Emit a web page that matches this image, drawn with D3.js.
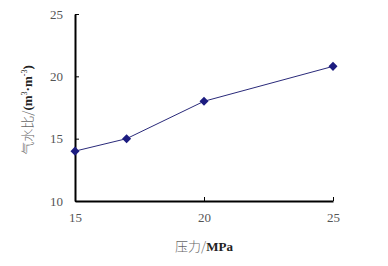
<!DOCTYPE html>
<html lang="zh">
<head>
  <meta charset="UTF-8">
  <title>气水比</title>
  <script src="https://d3js.org/d3.v7.min.js"></script>
  <style>
    body { margin: 0; background: #fff; }
    svg { display: block; }
  </style>
</head>
<body>
<svg id="chart" width="388" height="266"></svg>
<script>
  // données
  const pressure = [15, 17, 20, 25];
  const ratio = [14.0, 15.0, 18.0, 20.8];
  const xTicks = [15, 20, 25];
  const yTicks = [10, 15, 20, 25];

  const svg = d3.select("#chart");
  const mLeft = 75, mRight = 333, mTop = 14, mBottom = 201;
  const serif = "Liberation Serif, DejaVu Serif, serif";

  const x = d3.scaleLinear().domain([15, 25]).range([mLeft, mRight]);
  const y = d3.scaleLinear().domain([10, 25]).range([mBottom, mTop]);

  function styleAxis(g) {
    g.select(".domain").attr("stroke", "#000").attr("stroke-width", 2);
    g.selectAll(".tick line").attr("stroke", "#000");
    g.selectAll(".tick text")
      .attr("fill", "#555")
      .style("font-family", serif)
      .style("font-size", "13px");
  }

  // axe y
  svg.append("g").attr("transform", `translate(${mLeft},0)`)
    .call(d3.axisLeft(y).tickValues(yTicks).tickSizeInner(-4).tickSizeOuter(0).tickPadding(12))
    .call(styleAxis);

  // axe x
  svg.append("g").attr("transform", `translate(0,${mBottom})`)
    .call(d3.axisBottom(x).tickValues(xTicks).tickSizeInner(-4).tickSizeOuter(0).tickPadding(12))
    .call(styleAxis);

  const pts = pressure.map((p, i) => [p, ratio[i]]);

  svg.append("path")
    .datum(pts)
    .attr("fill", "none")
    .attr("stroke", "#2a2a7a")
    .attr("stroke-width", 1)
    .attr("d", d3.line().x(d => x(d[0])).y(d => y(d[1])));

  svg.append("g").selectAll("path")
    .data(pts)
    .join("path")
    .attr("transform", d => `translate(${x(d[0])},${y(d[1])}) rotate(45)`)
    .attr("d", "M-3.2,-3.2H3.2V3.2H-3.2Z")
    .attr("fill", "#1c1c80");

  // titres
  const xt = svg.append("text")
    .attr("x", 204).attr("y", 251)
    .attr("text-anchor", "middle")
    .style("font-size", "13px");
  xt.append("tspan").attr("fill", "#666").style("font-family", "Noto Sans CJK SC").style("font-weight", "300").text("压力/");
  xt.append("tspan").attr("fill", "#222").style("font-family", serif).style("font-weight", "bold").text("MPa");

  const yt = svg.append("text")
    .attr("transform", "translate(32,110) rotate(-90)")
    .attr("text-anchor", "middle")
    .style("font-size", "13px");
  yt.append("tspan").attr("fill", "#666").style("font-family", "Noto Sans CJK SC").style("font-weight", "300").text("气水比/");
  yt.append("tspan").attr("fill", "#222").style("font-family", serif).style("font-weight", "bold").text("(m");
  yt.append("tspan").attr("fill", "#222").style("font-family", serif).attr("dy", -5).style("font-size", "8px").text("3");
  yt.append("tspan").attr("fill", "#222").style("font-family", serif).attr("dy", 5).style("font-weight", "bold").text("·m");
  yt.append("tspan").attr("fill", "#222").style("font-family", serif).attr("dy", -5).style("font-size", "8px").text("-3");
  yt.append("tspan").attr("fill", "#222").style("font-family", serif).attr("dy", 5).style("font-weight", "bold").text(")");
</script>
</body>
</html>
